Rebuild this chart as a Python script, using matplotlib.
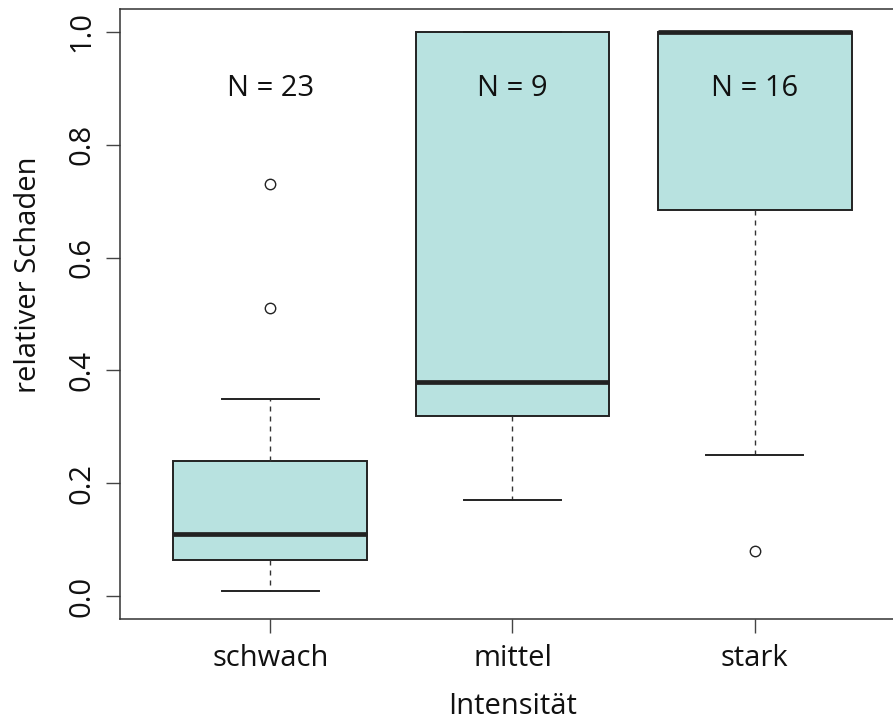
import matplotlib
matplotlib.use("Agg")
import matplotlib.pyplot as plt

plt.rcParams['font.family'] = ['Open Sans', 'DejaVu Sans']

# Damage ratio summary per intensity class
categories = ["schwach", "mittel", "stark"]
counts = [23, 9, 16]
whisker_low = [0.01, 0.17, 0.25]
q1 = [0.065, 0.32, 0.685]
median = [0.11, 0.38, 1.0]
q3 = [0.24, 1.0, 1.0]
whisker_high = [0.35, 1.0, 1.0]
outliers = [[0.51, 0.73], [], [0.08]]

y_ticks = [0.0, 0.2, 0.4, 0.6, 0.8, 1.0]
y_ticklabels = ["0.0", "0.2", "0.4", "0.6", "0.8", "1.0"]

box_fill = "#b8e2e0"
ink = "#222222"

stats = []
for i, name in enumerate(categories):
    stats.append(dict(label=name, whislo=whisker_low[i], q1=q1[i], med=median[i],
                      q3=q3[i], whishi=whisker_high[i], fliers=outliers[i]))

fig = plt.figure(figsize=(8.93, 7.24), dpi=100)
ax = fig.add_axes([120 / 893, 1 - 619 / 724, 785 / 893, 610 / 724])

positions = list(range(1, len(categories) + 1))
ax.bxp(stats, positions=positions, widths=0.8, capwidths=0.4,
       patch_artist=True, showfliers=True,
       boxprops=dict(facecolor=box_fill, edgecolor=ink, linewidth=1.4),
       medianprops=dict(color=ink, linewidth=3.4, solid_capstyle='butt'),
       whiskerprops=dict(color="#333333", linewidth=1.0, linestyle=(0, (3.6, 3.6))),
       capprops=dict(color=ink, linewidth=1.4),
       flierprops=dict(marker='o', markerfacecolor='none', markeredgecolor=ink,
                       markersize=7.5, markeredgewidth=1.0, linestyle='none'))

for pos, n in zip(positions, counts):
    ax.text(pos, 0.9, f"N = {n}", ha='center', va='center', fontsize=21, color='#111111')

ax.set_xlim(0.38, 3.62)
ax.set_ylim(-0.04, 1.04)

ax.set_yticks(y_ticks)
ax.set_yticklabels(y_ticklabels, rotation=90, va='center', fontsize=21)
ax.set_xticks(positions)
ax.set_xticklabels(categories, fontsize=21)

ax.tick_params(axis='both', direction='out', length=10, width=1.0, colors='#444444',
               labelcolor='#111111')
ax.tick_params(axis='y', pad=7)
ax.tick_params(axis='x', pad=8)

for sp in ax.spines.values():
    sp.set_color('#333333')
    sp.set_linewidth(1.1)

ax.set_xlabel("Intensität", fontsize=21, color='#111111', labelpad=14)
ax.set_ylabel("relativer Schaden", fontsize=21, color='#111111')
ax.yaxis.set_label_coords(-0.098, 0.564)

fig.savefig("out.png", dpi=100, facecolor='white')
